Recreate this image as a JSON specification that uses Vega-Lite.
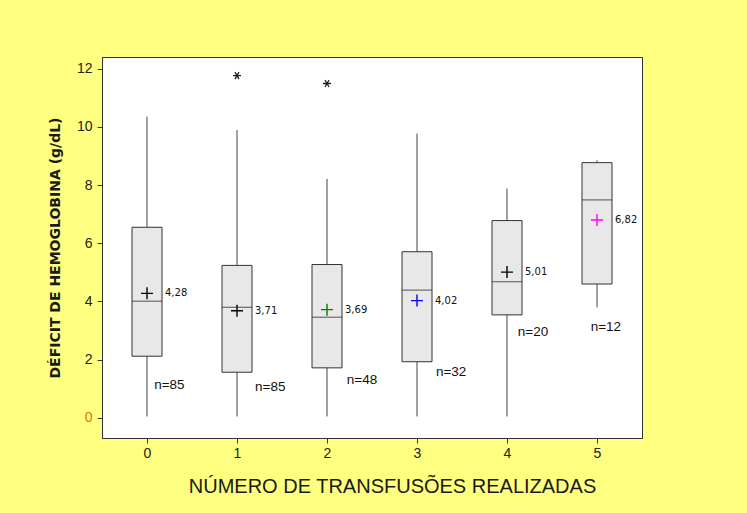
{
  "$schema": "https://vega.github.io/schema/vega-lite/v6.json",
  "width": 540,
  "height": 381,
  "autosize": {"type": "none"},
  "padding": {"left": 102, "top": 57, "right": 105, "bottom": 75},
  "background": "#ffff80",
  "config": {
    "view": {"fill": "white", "stroke": "#333333", "strokeWidth": 1},
    "axis": {
      "grid": false,
      "domainColor": "#333333",
      "tickColor": "#333333",
      "tickSize": 5,
      "labelFont": "Liberation Sans",
      "labelFontSize": 14,
      "labelColor": "#222222",
      "titleColor": "#1a1a1a"
    }
  },
  "datasets": {
    "boxes": [
      {"g": 0, "lo": 0.05, "q1": 2.12, "med": 4.01, "q3": 6.55, "hi": 10.35, "mean": 4.28, "meanLabel": "4,28", "cross": "black", "nText": "n=85", "nX": 0.08, "nY": 1.13},
      {"g": 1, "lo": 0.05, "q1": 1.57, "med": 3.80, "q3": 5.24, "hi": 9.89, "mean": 3.68, "meanLabel": "3,71", "cross": "black", "nText": "n=85", "nX": 1.2, "nY": 1.07},
      {"g": 2, "lo": 0.05, "q1": 1.72, "med": 3.46, "q3": 5.27, "hi": 8.21, "mean": 3.72, "meanLabel": "3,69", "cross": "green", "nText": "n=48", "nX": 2.22, "nY": 1.3},
      {"g": 3, "lo": 0.05, "q1": 1.93, "med": 4.39, "q3": 5.71, "hi": 9.77, "mean": 4.03, "meanLabel": "4,02", "cross": "blue", "nText": "n=32", "nX": 3.21, "nY": 1.57},
      {"g": 4, "lo": 0.05, "q1": 3.54, "med": 4.68, "q3": 6.78, "hi": 7.88, "mean": 5.01, "meanLabel": "5,01", "cross": "black", "nText": "n=20", "nX": 4.12, "nY": 2.94},
      {"g": 5, "lo": 3.80, "q1": 4.60, "med": 7.49, "q3": 8.77, "hi": 8.85, "mean": 6.80, "meanLabel": "6,82", "cross": "magenta", "nText": "n=12", "nX": 4.93, "nY": 3.11}
    ],
    "outliers": [
      {"g": 1, "v": 11.76},
      {"g": 2, "v": 11.49}
    ]
  },
  "layer": [
    {
      "data": {"name": "boxes"},
      "mark": {"type": "rule", "color": "#444444", "strokeWidth": 1},
      "encoding": {
        "x": {
          "field": "g", "type": "quantitative",
          "scale": {"domain": [-0.5, 5.5], "nice": false, "zero": false, "padding": 0},
          "axis": {
            "values": [0, 1, 2, 3, 4, 5],
            "format": "d",
            "labelPadding": 3,
            "title": "NÚMERO DE TRANSFUSÕES REALIZADAS",
            "titleFont": "Liberation Sans",
            "titleFontSize": 20,
            "titleFontWeight": "normal",
            "titleX": 290,
            "titleY": 54,
            "titleAlign": "center",
            "titleBaseline": "alphabetic"
          }
        },
        "y": {
          "field": "lo", "type": "quantitative",
          "scale": {"domain": [-0.69, 12.4], "nice": false, "zero": false, "padding": 0},
          "axis": {
            "values": [0, 1, 2, 3, 4, 5, 6, 7, 8, 9, 10, 11, 12],
            "labelExpr": "datum.value % 2 === 0 ? datum.label : ''",
            "labelColor": {"condition": {"test": "datum.value === 0", "value": "#e8692a"}, "value": "#222222"},
            "labelPadding": 5,
            "title": "DÉFICIT DE HEMOGLOBINA (g/dL)",
            "titleFont": "DejaVu Sans",
            "titleFontSize": 14,
            "titleFontWeight": "bold",
            "titlePadding": 14
          }
        },
        "y2": {"field": "hi"}
      }
    },
    {
      "data": {"name": "boxes"},
      "mark": {"type": "bar", "size": 30, "fill": "#e8e8e8", "stroke": "#333333", "strokeWidth": 1},
      "encoding": {
        "x": {"field": "g", "type": "quantitative"},
        "y": {"field": "q1", "type": "quantitative"},
        "y2": {"field": "q3"}
      }
    },
    {
      "data": {"name": "boxes"},
      "mark": {"type": "tick", "orient": "horizontal", "size": 30, "thickness": 1.2, "color": "#333333"},
      "encoding": {
        "x": {"field": "g", "type": "quantitative"},
        "y": {"field": "med", "type": "quantitative"}
      }
    },
    {
      "data": {"name": "boxes"},
      "mark": {"type": "point", "shape": "M-1,0L1,0M0,-1L0,1", "filled": false, "size": 144, "strokeWidth": 1.4, "opacity": 1},
      "encoding": {
        "x": {"field": "g", "type": "quantitative"},
        "y": {"field": "mean", "type": "quantitative"},
        "color": {"field": "cross", "type": "nominal", "scale": null, "legend": null}
      }
    },
    {
      "data": {"name": "boxes"},
      "mark": {"type": "text", "align": "left", "baseline": "middle", "dx": 18, "font": "DejaVu Sans", "fontSize": 10, "color": "#111111"},
      "encoding": {
        "x": {"field": "g", "type": "quantitative"},
        "y": {"field": "mean", "type": "quantitative"},
        "text": {"field": "meanLabel"}
      }
    },
    {
      "data": {"name": "boxes"},
      "mark": {"type": "text", "align": "left", "baseline": "middle", "font": "Liberation Sans", "fontSize": 13.5, "color": "#111111"},
      "encoding": {
        "x": {"field": "nX", "type": "quantitative"},
        "y": {"field": "nY", "type": "quantitative"},
        "text": {"field": "nText"}
      }
    },
    {
      "data": {"name": "outliers"},
      "mark": {"type": "point", "shape": "M-1,0L1,0M-0.5,-0.87L0.5,0.87M-0.5,0.87L0.5,-0.87", "filled": false, "size": 64, "strokeWidth": 1.3, "color": "#222222", "opacity": 1},
      "encoding": {
        "x": {"field": "g", "type": "quantitative"},
        "y": {"field": "v", "type": "quantitative"}
      }
    }
  ]
}
